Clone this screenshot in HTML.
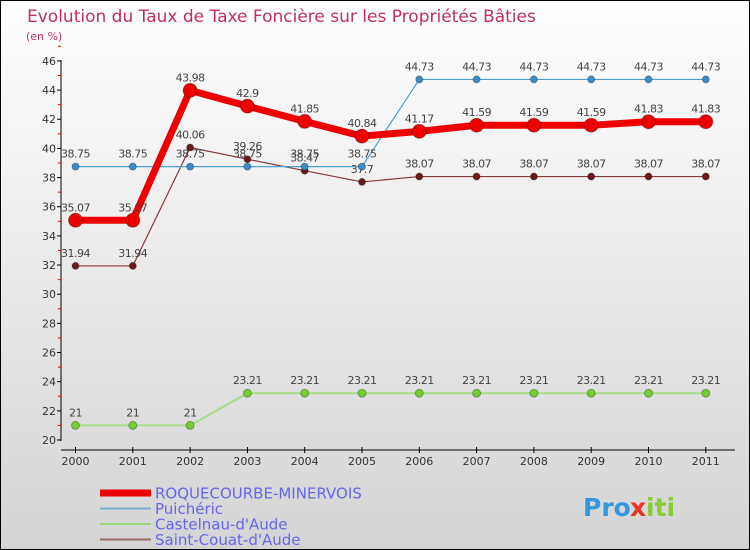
<!DOCTYPE html>
<html><head><meta charset="utf-8"><style>
body{margin:0}
#c{width:750px;height:550px;position:relative;box-sizing:border-box;border:1px solid #000;background:linear-gradient(#fff,#f2f2f2 30%,#d4d4d4);font-family:"DejaVu Sans","Liberation Sans",sans-serif;overflow:hidden}
</style></head><body>
<div id="c">
<svg id="s" width="750" height="550" style="position:absolute;left:-1px;top:-1px"></svg>
</div>
<script>
const years=["2000","2001","2002","2003","2004","2005","2006","2007","2008","2009","2010","2011"];
const yTicks=[20,22,24,26,28,30,32,34,36,38,40,42,44,46];
const roq=[35.07,35.07,43.98,42.9,41.85,40.84,41.17,41.59,41.59,41.59,41.83,41.83];
const pui=[38.75,38.75,38.75,38.75,38.75,38.75,44.73,44.73,44.73,44.73,44.73,44.73];
const cas=[21,21,21,23.21,23.21,23.21,23.21,23.21,23.21,23.21,23.21,23.21];
const sai=[31.94,31.94,40.06,39.26,38.47,37.7,38.07,38.07,38.07,38.07,38.07,38.07];
const NS="http://www.w3.org/2000/svg",svg=document.getElementById('s');
const X=i=>75.5+i*57.3, Y=v=>440-(v-20)*14.58;
function el(t,a,p){const e=document.createElementNS(NS,t);for(const k in a)e.setAttribute(k,a[k]);(p||svg).appendChild(e);return e;}
function tx(x,y,s,a){const e=el('text',Object.assign({x:x,y:y},a));e.textContent=s;return e;}
const t1=tx(27,22,"Evolution du Taux de Taxe Foncière sur les Propriétés Bâties",{fill:"#c0305a","font-size":"17"});

const t2=tx(26,40,"(en %)",{fill:"#c0305a","font-size":"11"});

const ax=el('g',{});
el('line',{x1:61,y1:60,x2:61,y2:441,stroke:"#000"},ax);
yTicks.forEach(v=>{el('line',{x1:57,x2:61,y1:Y(v),y2:Y(v),stroke:"#000"},ax);
 el('line',{x1:58,x2:61,y1:Y(v+1),y2:Y(v+1),stroke:"#e00"},ax);
 tx(56,Y(v)+4,String(v),{"text-anchor":"end","font-size":"11",fill:"#333"},ax);});
const xa=el('g',{});
el('line',{x1:61,y1:450,x2:735,y2:450,stroke:"#000"},xa);
years.forEach((y,i)=>{el('line',{x1:X(i),x2:X(i),y1:447,y2:453,stroke:"#000"},xa);
 tx(X(i),465,y,{"text-anchor":"middle","font-size":"11",fill:"#333"},xa);});
function series(name,d,color,w,r,dot,lab){
 const g=el('g',{});
 el('polyline',{points:d.map((v,i)=>X(i)+","+Y(v)).join(" "),fill:"none",stroke:color,"stroke-width":w,"stroke-linejoin":"round"},g);
 d.forEach((v,i)=>{const c=el('circle',{cx:X(i),cy:Y(v),r:r,fill:dot,stroke:"rgba(0,0,0,0.3)"},g);
  
  tx(X(i),Y(v)-9,String(v),{"text-anchor":"middle","font-size":"11",fill:"#444","letter-spacing":"-0.5"},g);});
}
series('series-castelnau',cas,"#a6dc86",2,4,"#77cc33");
series('series-saint-couat',sai,"#8a3a3a",1.2,3.5,"#6b1a1a");
series('series-puicheric',pui,"#4f9fd6",1.2,3.5,"#3d8cc8");
series('series-roquecourbe',roq,"#ee0000",7,7,"#ee0000");
const lg=el('g',{});
[["ROQUECOURBE-MINERVOIS","#ee0000",7],["Puichéric","#7aaed0",2],["Castelnau-d'Aude","#9ad67a",2],["Saint-Couat-d'Aude","#9a6a6a",2]].forEach((l,i)=>{
 const yy=493+i*15.5;el('line',{x1:100,x2:151,y1:yy,y2:yy,stroke:l[1],"stroke-width":l[2]},lg);
 const t=tx(155,yy+5.5,l[0],{"font-size":"15",fill:"#6666ee"},lg);});
const lo=el('g',{});
tx(583,516,"Pro",{"font-size":"25","font-weight":"bold",fill:"#3399dd"},lo);
tx(630,516,"x",{"font-size":"25","font-weight":"bold",fill:"#ee3322"},lo);
tx(646,516,"iti",{"font-size":"25","font-weight":"bold",fill:"#88cc33"},lo);
</script>
</body></html>
